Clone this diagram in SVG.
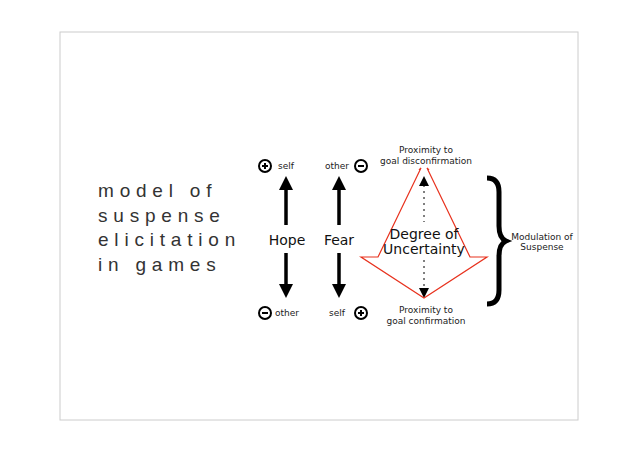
<svg xmlns="http://www.w3.org/2000/svg" width="638" height="451" viewBox="0 0 638 451">
<defs>
<style>
.s{font-family:"DejaVu Sans",sans-serif;font-size:9px;fill:#222;text-anchor:middle}
.b{font-family:"DejaVu Sans",sans-serif;font-size:14px;fill:#111;text-anchor:middle}
.t{font-family:"Liberation Sans",sans-serif;font-size:19px;fill:#333;letter-spacing:5.8px}
.ax{stroke:#000;stroke-width:3.5;fill:none}
.c{fill:none;stroke:#000;stroke-width:2}
</style>
<marker id="ah" markerWidth="4" markerHeight="4" refX="2" refY="2" orient="auto" markerUnits="strokeWidth"><path d="M0,0 L4,2 L0,4 Z" fill="#000"/></marker>
</defs>
<rect width="638" height="451" fill="#fff"/>
<rect x="60" y="32" width="518" height="388" fill="none" stroke="#ccc" stroke-width="1"/>
<g id="title">
<text class="t" x="98" y="197">model of</text>
<text class="t" x="98" y="222">suspense</text>
<text class="t" x="98" y="246">elicitation</text>
<text class="t" x="98" y="271">in games</text>
</g>
<g id="connectors">
<line class="ax" x1="286" y1="225" x2="286" y2="183" marker-end="url(#ah)"/>
<line class="ax" x1="286" y1="253" x2="286" y2="291" marker-end="url(#ah)"/>
<line class="ax" x1="339" y1="225" x2="339" y2="183" marker-end="url(#ah)"/>
<line class="ax" x1="339" y1="253" x2="339" y2="291" marker-end="url(#ah)"/>
<line x1="424" y1="185" x2="424" y2="222" stroke="#000" stroke-width="1" stroke-dasharray="2,4"/>
<line x1="424" y1="260" x2="424" y2="290" stroke="#000" stroke-width="1" stroke-dasharray="2,4"/>
<path d="M419,186 L424,176 L429,186 Z M419,288 L429,288 L424,298 Z" fill="#000"/>
</g>
<g id="hope">
<text class="b" x="287" y="245">Hope</text>
<circle class="c" cx="265" cy="166" r="6"/><path d="M262,166h6M265,163v6" stroke="#000" stroke-width="2"/>
<text class="s" x="286" y="169">self</text>
<circle class="c" cx="265" cy="313" r="6"/><path d="M262,313h6" stroke="#000" stroke-width="2"/>
<text class="s" x="287" y="316">other</text>
</g>
<g id="fear">
<text class="b" x="339" y="245">Fear</text>
<text class="s" x="337" y="169">other</text>
<circle class="c" cx="361" cy="166" r="6"/><path d="M358,166h6" stroke="#000" stroke-width="2"/>
<text class="s" x="337" y="316">self</text>
<circle class="c" cx="361" cy="313" r="6"/><path d="M358,313h6M361,310v6" stroke="#000" stroke-width="2"/>
</g>
<g id="uncertainty">
<path d="M419,170 L421,168 L378,257 L361,257 L424,298 L487,257 L470,257 L427,168 L429,170" fill="none" stroke="#e8321e" stroke-width="1.2"/>
<text class="b" x="424" y="239">Degree of</text>
<text class="b" x="424" y="254">Uncertainty</text>
<text class="s" x="426" y="153">Proximity to</text>
<text class="s" x="426" y="164">goal disconfirmation</text>
<text class="s" x="426" y="313">Proximity to</text>
<text class="s" x="426" y="324">goal confirmation</text>
</g>
<g id="modulation">
<path d="M487,178 Q499,178 499,192 L499,226 Q499,238 506,241 Q499,244 499,256 L499,290 Q499,304 487,304" fill="none" stroke="#000" stroke-width="5"/>
<text class="s" x="542" y="240">Modulation of</text>
<text class="s" x="542" y="250">Suspense</text>
</g>
</svg>
